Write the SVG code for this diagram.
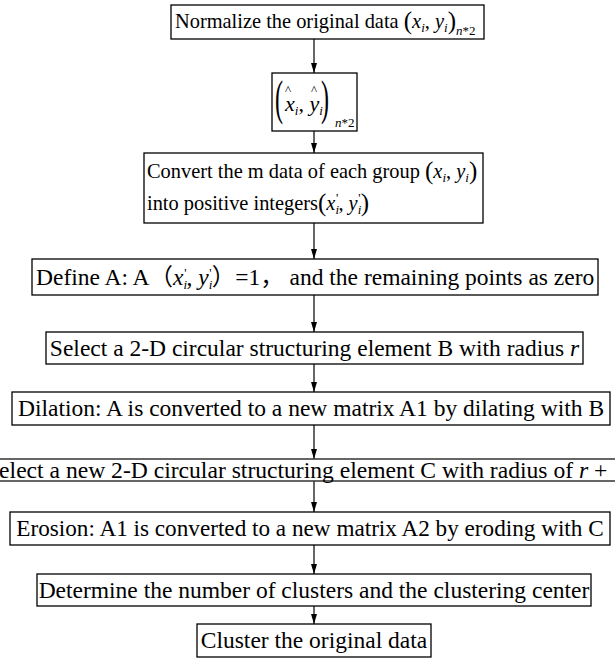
<svg xmlns="http://www.w3.org/2000/svg" width="615" height="668" viewBox="0 0 615 668">
<style>
.b{fill:#fff;stroke:#000;stroke-width:1.3}
.t{font-family:"Liberation Serif","Noto Sans CJK SC",serif;font-size:20.4px;fill:#000}
.w{font-size:23.5px}
.m{font-style:italic}
.s{font-size:13px}
.c{stroke:#000;stroke-width:1.2;fill:none}
.h{stroke:#333;stroke-width:1.4}
</style>
<defs>
<marker id="a" markerWidth="10" markerHeight="6" refX="10" refY="3" orient="auto" markerUnits="userSpaceOnUse" viewBox="0 0 10 6">
<path d="M0,0 L10,3 L0,6 z" fill="#000"/>
</marker>
</defs>
<rect width="615" height="668" fill="#fff"/>
<g id="connectors">
<line class="c" x1="314" y1="39" x2="314" y2="73" marker-end="url(#a)"/>
<line class="c" x1="314" y1="131" x2="314" y2="153" marker-end="url(#a)"/>
<line class="c" x1="314" y1="223" x2="314" y2="259" marker-end="url(#a)"/>
<line class="c" x1="314" y1="295" x2="314" y2="332" marker-end="url(#a)"/>
<line class="c" x1="314" y1="364" x2="314" y2="392" marker-end="url(#a)"/>
<line class="c" x1="314" y1="425" x2="314" y2="459" marker-end="url(#a)"/>
<line class="c" x1="314" y1="481" x2="314" y2="512" marker-end="url(#a)"/>
<line class="c" x1="314" y1="545" x2="314" y2="574" marker-end="url(#a)"/>
<line class="c" x1="314" y1="606" x2="314" y2="624" marker-end="url(#a)"/>
</g>
<g id="n1">
<rect class="b" x="171" y="5" width="313" height="34"/>
<text class="t" x="175" y="28">Normalize  the original data <tspan style="font-size:25px" dy="1">(</tspan><tspan class="m" dy="-1">x</tspan><tspan class="s m" dy="4">i</tspan><tspan dy="-4">, </tspan><tspan class="m">y</tspan><tspan class="s m" dy="4">i</tspan><tspan style="font-size:25px" dy="-3">)</tspan><tspan class="s m" dy="6">n</tspan><tspan class="s">*2</tspan></text>
</g>
<g id="n2">
<rect class="b" x="272" y="73" width="85" height="58"/>
<text class="t" transform="translate(275,114) scale(1,2)" style="font-size:24px">(</text>
<text class="t" transform="translate(321,114) scale(1,2)" style="font-size:24px">)</text>
<text class="t" x="285" y="111" style="font-size:22px"><tspan class="m">x</tspan><tspan class="s m" dy="4">i</tspan><tspan dy="-4">, </tspan><tspan class="m">y</tspan><tspan class="s m" dy="4">i</tspan></text>
<text class="t" x="285" y="94" style="font-size:13px">^</text>
<text class="t" x="311" y="94" style="font-size:13px">^</text>
<text class="t s" x="335" y="127"><tspan class="m">n</tspan>*2</text>
</g>
<g id="n3">
<rect class="b" x="144" y="153" width="339" height="70"/>
<text class="t" x="147" y="178">Convert the m data of each group <tspan style="font-size:25px" dy="1">(</tspan><tspan class="m" dy="-1">x</tspan><tspan class="s m" dy="4">i</tspan><tspan dy="-4">, </tspan><tspan class="m">y</tspan><tspan class="s m" dy="4">i</tspan><tspan style="font-size:25px" dy="-3">)</tspan></text>
<text class="t" x="147" y="210">into positive integers<tspan style="font-size:25px" dy="1">(</tspan><tspan class="m" dy="-1">x</tspan><tspan class="s m" dy="4">i</tspan><tspan class="s" dx="-3" dy="-12">'</tspan><tspan dy="8">, </tspan><tspan class="m">y</tspan><tspan class="s m" dy="4">i</tspan><tspan class="s" dx="-3" dy="-12">'</tspan><tspan style="font-size:25px" dy="9">)</tspan></text>
</g>
<g id="n4">
<rect class="b" x="32" y="259" width="566" height="36"/>
<text class="t w" x="36" y="285">Define A: A（<tspan class="m">x</tspan><tspan class="s m" dy="4">i</tspan><tspan class="s" dx="-3" dy="-12">'</tspan><tspan dy="8">, </tspan><tspan class="m">y</tspan><tspan class="s m" dy="4">i</tspan><tspan class="s" dx="-3" dy="-12">'</tspan><tspan dy="8">）=1， and the remaining points as zero</tspan></text>
</g>
<g id="n5">
<rect class="b" x="46" y="332" width="537" height="32"/>
<text class="t w" x="314.5" y="356" text-anchor="middle">Select a 2-D circular structuring element B with radius <tspan class="m">r</tspan></text>
</g>
<g id="n6">
<rect class="b" x="12" y="392" width="598" height="33"/>
<text class="t w" x="311" y="416" text-anchor="middle">Dilation: A is converted to a new matrix A1 by dilating with B</text>
</g>
<g id="n7">
<line class="h" x1="0" y1="459" x2="615" y2="459"/>
<line class="h" x1="0" y1="481" x2="615" y2="481"/>
<text class="t" x="-14" y="478" style="font-size:23.6px">Select a new 2-D circular structuring element C with radius of <tspan class="m">r</tspan> + 1</text>
</g>
<g id="n8">
<rect class="b" x="10" y="512" width="600" height="33"/>
<text class="t" x="310" y="536" text-anchor="middle" style="font-size:23.2px">Erosion: A1 is converted to a new matrix A2 by eroding with C</text>
</g>
<g id="n9">
<rect class="b" x="37" y="574" width="554" height="32"/>
<text class="t w" x="314" y="598" text-anchor="middle">Determine the number of clusters and the clustering center</text>
</g>
<g id="n10">
<rect class="b" x="197" y="624" width="234" height="33"/>
<text class="t w" x="314" y="648" text-anchor="middle">Cluster the original data</text>
</g>
</svg>
